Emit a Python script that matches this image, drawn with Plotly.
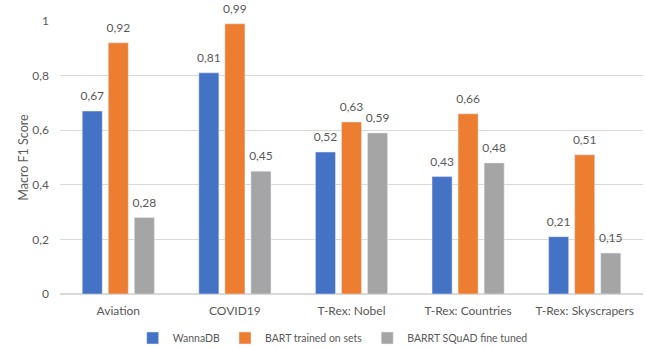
import plotly.graph_objects as go

categories = ["Aviation", "COVID19", "T-Rex: Nobel", "T-Rex: Countries", "T-Rex: Skyscrapers"]
wannadb = [0.67, 0.81, 0.52, 0.43, 0.21]
bart_sets = [0.92, 0.99, 0.63, 0.66, 0.51]
barrt_squad = [0.28, 0.45, 0.59, 0.48, 0.15]
series_names = ["WannaDB", "BART trained on sets", "BARRT SQuAD fine tuned"]
colors = ["#4472C4", "#ED7D31", "#A5A5A5"]

font_family = "Lato, Liberation Sans, sans-serif"
fig = go.Figure()
for i, (name, vals, col) in enumerate(zip(series_names, [wannadb, bart_sets, barrt_squad], colors)):
    fig.add_trace(go.Bar(
        x=categories, y=vals, name=name, marker_color=col,
        offsetgroup=str(i), hoverinfo="x+y+name",
    ))
for i, vals in enumerate([wannadb, bart_sets, barrt_squad]):
    fig.add_trace(go.Scatter(
        x=categories, y=vals, mode="markers+text", offsetgroup=str(i),
        marker=dict(size=11, opacity=0), showlegend=False, hoverinfo="skip",
        texttemplate="%{y:.2f}", textposition="top center",
        textfont=dict(size=12, color="#595959", family=font_family),
        cliponaxis=False,
    ))

fig.update_layout(
    width=646, height=348,
    margin=dict(l=60, r=3, t=21, b=54, autoexpand=False),
    paper_bgcolor="white", plot_bgcolor="white",
    separators=", ",
    barmode="group", bargap=0.33, bargroupgap=0.23,
    scattermode="group", scattergap=0.33,
    font=dict(family=font_family, size=12, color="#595959"),
    legend=dict(orientation="h", x=0.515, xanchor="center", xref="container",
                y=10 / 348, yanchor="middle", yref="container",
                font=dict(size=10.5, color="#595959"),
                traceorder="normal", itemwidth=30),
    showlegend=True,
)
fig.update_yaxes(range=[0, 1], dtick=0.2, showgrid=True, gridcolor="#D9D9D9",
                 zeroline=True, zerolinecolor="#D9D9D9", ticks="", showline=False,
                 ticklabelstandoff=10,
                 title=dict(text="Macro F1 Score", font=dict(size=12.5, color="#595959"), standoff=0),
                 tickfont=dict(size=12, color="#595959"))
fig.update_xaxes(showline=False, ticks="", ticklabelstandoff=8,
                 tickfont=dict(size=12, color="#595959"))

# remove the browser's default 8px body margin so the figure fills the window
fig.write_html("out.html", config={"displayModeBar": False},
               post_script="document.body.style.margin='0';")
